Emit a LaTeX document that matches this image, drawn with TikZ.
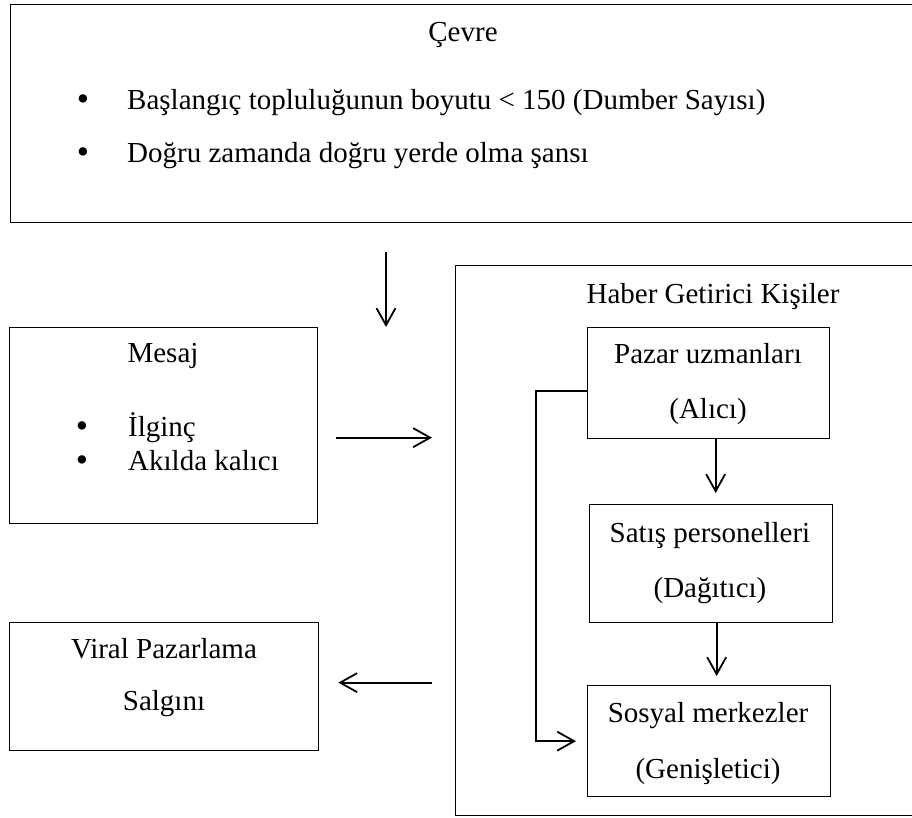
\documentclass[tikz,border=0pt]{standalone}
\usepackage{fontspec}
\setmainfont{Liberation Serif}
\usetikzlibrary{arrows.meta,calc}
\begin{document}
\begin{tikzpicture}[x=1pt,y=-1pt,
  box/.style={draw,line width=1.3pt,inner sep=0pt,anchor=north west},
  txt/.style={anchor=base,inner sep=0pt,font=\fontsize{29}{34}\selectfont},
  ltxt/.style={txt,anchor=base west},
  dot/.style={anchor=base,inner sep=0pt,font=\fontsize{35}{35}\selectfont},
  arr/.style={line width=1.8pt,-{Straight Barb[length=17pt,width=19pt,line width=1.8pt]}}]
\useasboundingbox (0,0) rectangle (912,818);
\clip (0,0) rectangle (912,818);

% frames
\node[box,minimum width=906pt,minimum height=218pt] (cevre) at (10,4) {};
\node[box,minimum width=520pt,minimum height=550pt] (haber) at (455,265) {};
\node[box,minimum width=308pt,minimum height=196pt] (mesaj) at (9,327) {};
\node[box,minimum width=309pt,minimum height=128pt] (viral) at (9,622) {};
\node[box,minimum width=242pt,minimum height=111pt] (pazar) at (587,327) {};
\node[box,minimum width=243pt,minimum height=118pt] (satis) at (589,504) {};
\node[box,minimum width=243pt,minimum height=111pt] (sosyal) at (587,685) {};

% environment box
\node[txt] (cevre-t) at (463,42) {Çevre};
\node[dot] (cevre-b1) at (83,111) {•};
\node[ltxt] (cevre-l1) at (127,110) {Başlangıç topluluğunun boyutu < 150 (Dumber Sayısı)};
\node[dot] (cevre-b2) at (83,164) {•};
\node[ltxt] (cevre-l2) at (127,163) {Doğru zamanda doğru yerde olma şansı};

% message box
\node[txt] (mesaj-t) at (163,362) {Mesaj};
\node[dot] (mesaj-b1) at (82,437) {•};
\node[ltxt] (mesaj-l1) at (128,436) {İlginç};
\node[dot] (mesaj-b2) at (82,471) {•};
\node[ltxt] (mesaj-l2) at (128,470) {Akılda kalıcı};

% outcome box
\node[txt] (viral-t1) at (164,658) {Viral Pazarlama};
\node[txt] (viral-t2) at (164,710) {Salgını};

% messengers
\node[txt] (haber-t) at (713,303) {Haber Getirici Kişiler};
\node[txt] (pazar-t1) at (708,363) {Pazar uzmanları};
\node[txt] (pazar-t2) at (708,418) {(Alıcı)};
\node[txt] (satis-t1) at (710,542) {Satış personelleri};
\node[txt] (satis-t2) at (710,597) {(Dağıtıcı)};
\node[txt] (sosyal-t1) at (708,722) {Sosyal merkezler};
\node[txt] (sosyal-t2) at (708,778) {(Genişletici)};

% connectors
\coordinate (dtop) at (386,222);
\draw[arr,shorten <=30pt] (dtop) -- (dtop |- mesaj.north);
\draw[arr,shorten <=18pt,shorten >=23pt] ([yshift=-12pt]mesaj.east) -- ([yshift=-12pt]mesaj.east -| haber.west);
\draw[arr,shorten <=23pt,shorten >=19pt] ([yshift=4pt]viral.east -| haber.west) -- ([yshift=4pt]viral.east);
\draw[arr,shorten >=11pt] ([xshift=7pt]pazar.south) -- ([xshift=7pt]pazar.south |- satis.north);
\draw[arr,shorten >=9pt] ([xshift=5.5pt]satis.south) -- ([xshift=5.5pt]satis.south |- sosyal.north);
\draw[arr,shorten >=11pt] ([yshift=-7.5pt]pazar.west) -- ++(-51,0) |- (sosyal.west);
\end{tikzpicture}
\end{document}
